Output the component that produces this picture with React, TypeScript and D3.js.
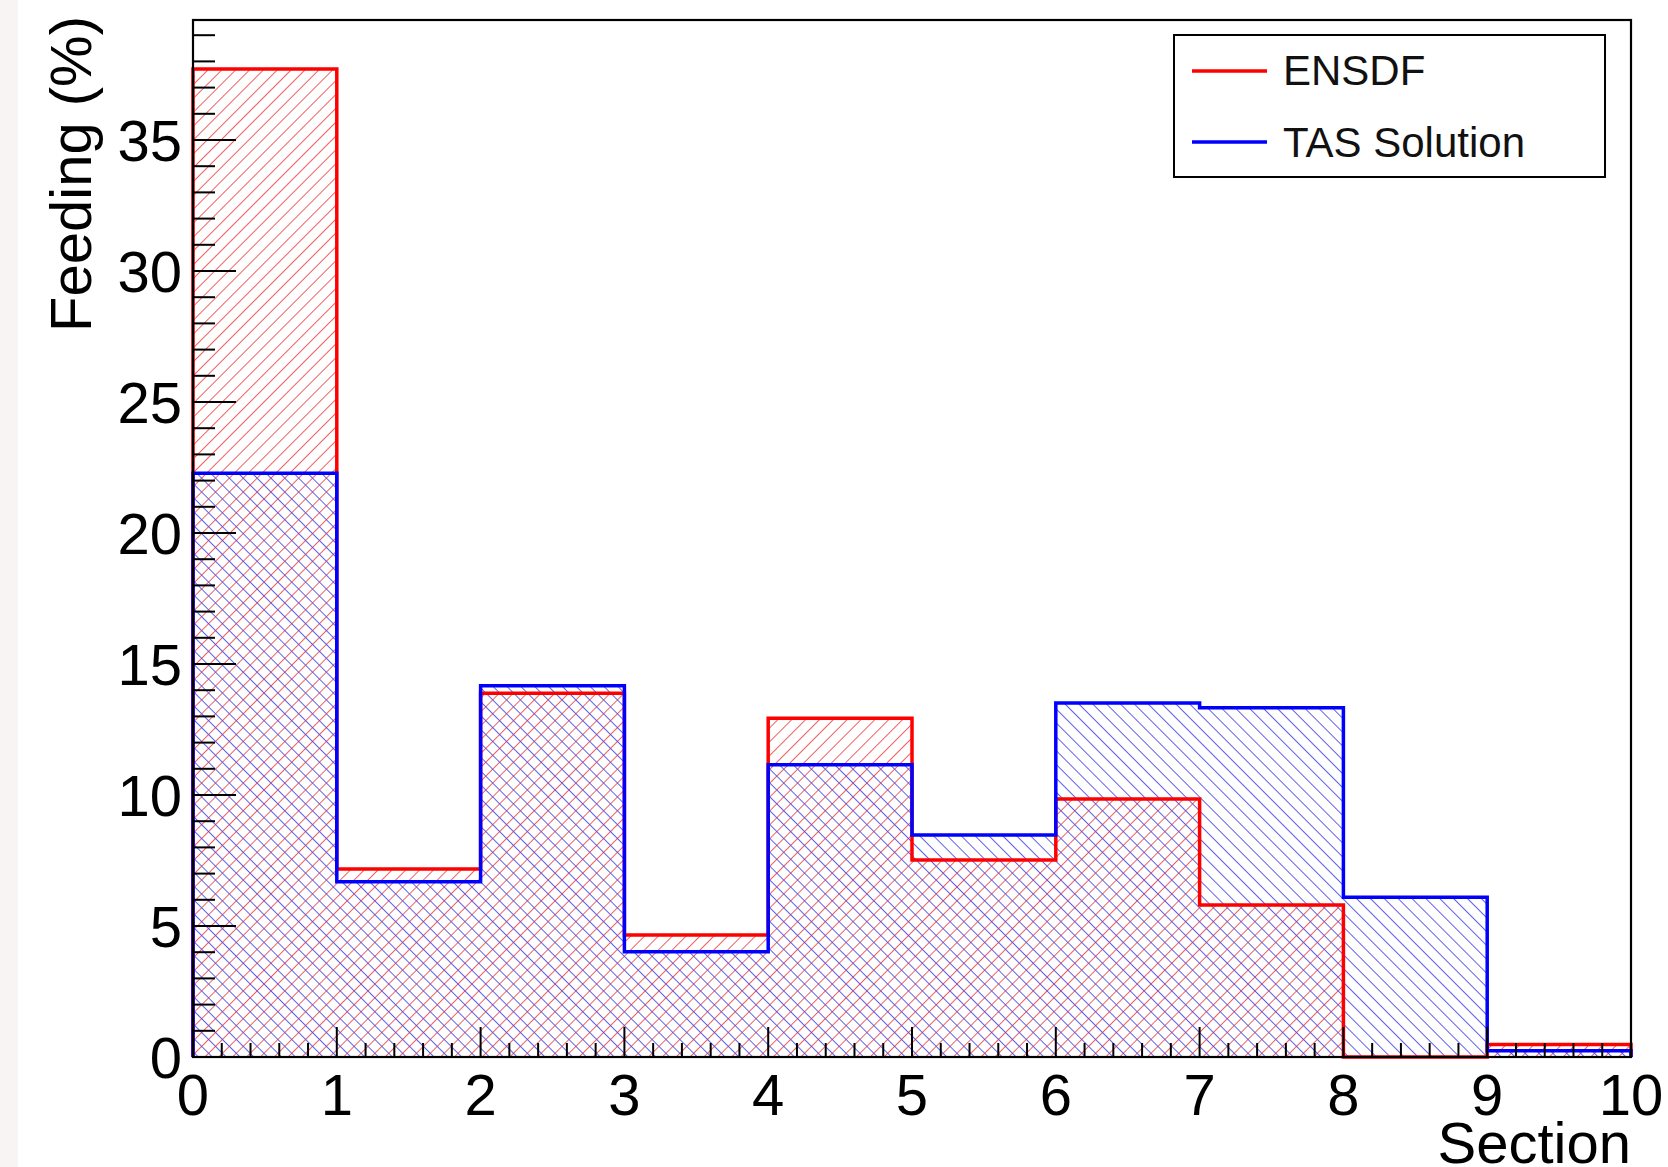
import React from "react";
import * as d3 from "d3";

const binEdges = [0, 1, 2, 3, 4, 5, 6, 7, 8, 9, 10];
const ensdf = [37.71, 7.18, 13.88, 4.66, 12.93, 7.52, 9.85, 5.8, 0, 0.48];
const tas = [22.28, 6.69, 14.17, 4.02, 11.15, 8.47, 13.51, 13.33, 6.1, 0.24];
const xTickLabels = ["0", "1", "2", "3", "4", "5", "6", "7", "8", "9", "10"];
const yTickValues = [0, 5, 10, 15, 20, 25, 30, 35];
const legendLabels = ["ENSDF", "TAS Solution"];

const W = 1668;
const H = 1167;
const L = 193, R = 1631, T = 20, B = 1057;
const FONT = "'Liberation Sans', Arial, Helvetica, sans-serif";

const x = d3.scaleLinear().domain([0, 10]).range([L, R]);
const y = d3.scaleLinear().domain([0, 39.58]).range([B, T]);

function stepPoints(vals: number[]): [number, number][] {
  const pts: [number, number][] = [[binEdges[0], 0]];
  vals.forEach((v, i) => {
    pts.push([binEdges[i], v]);
    pts.push([binEdges[i + 1], v]);
  });
  pts.push([binEdges[binEdges.length - 1], 0]);
  return pts;
}

const lineGen = d3
  .line<[number, number]>()
  .x((d) => x(d[0]))
  .y((d) => y(d[1]));

export default function App() {
  const redPath = lineGen(stepPoints(ensdf)) || "";
  const bluePath = lineGen(stepPoints(tas)) || "";
  const xMajor = d3.range(0, 11, 1);
  const xMinor = d3.range(0, 10.001, 0.2).filter((v) => Math.abs(v - Math.round(v)) > 1e-6);
  const yMinor = d3.range(0, 39.5, 1).filter((v) => v % 5 !== 0);
  const sp = 9.8;

  return (
    <svg
      width={W}
      height={H}
      style={{ position: "absolute", left: 0, top: 0, background: "#fff" }}
      xmlns="http://www.w3.org/2000/svg"
    >
      <defs>
        <pattern id="hatchRed" patternUnits="userSpaceOnUse" width={sp} height={sp} patternTransform="rotate(45)">
          <line x1={0} y1={-2} x2={0} y2={sp + 2} stroke="#ee5050" strokeWidth={1.8} />
        </pattern>
        <pattern id="hatchBlue" patternUnits="userSpaceOnUse" width={sp} height={sp} patternTransform="rotate(-45)">
          <line x1={0} y1={-2} x2={0} y2={sp + 2} stroke="#5050e6" strokeWidth={1.8} />
        </pattern>
      </defs>
      <rect x={0} y={0} width={W} height={H} fill="#ffffff" />
      <rect x={0} y={0} width={18} height={H} fill="#f8f4f4" />

      {/* fills */}
      <path d={redPath + "Z"} fill="url(#hatchRed)" stroke="none" />
      <path d={bluePath + "Z"} fill="url(#hatchBlue)" stroke="none" />
      {/* outlines */}
      <path d={redPath} fill="none" stroke="#ff0000" strokeWidth={3.5} strokeLinejoin="miter" />
      <path d={bluePath} fill="none" stroke="#0000ff" strokeWidth={3.5} strokeLinejoin="miter" />

      {/* frame */}
      <rect x={L} y={T} width={R - L} height={B - T} fill="none" stroke="#000" strokeWidth={2.2} />

      {/* x ticks */}
      {xMajor.map((v) => (
        <line key={"xM" + v} x1={x(v)} x2={x(v)} y1={B} y2={B - 30} stroke="#000" strokeWidth={2} />
      ))}
      {xMinor.map((v, i) => (
        <line key={"xm" + i} x1={x(v)} x2={x(v)} y1={B} y2={B - 14} stroke="#000" strokeWidth={2} />
      ))}
      {/* y ticks */}
      {yTickValues.map((v) => (
        <line key={"yM" + v} x1={L} x2={L + 43} y1={y(v)} y2={y(v)} stroke="#000" strokeWidth={2} />
      ))}
      {yMinor.map((v) => (
        <line key={"ym" + v} x1={L} x2={L + 22} y1={y(v)} y2={y(v)} stroke="#000" strokeWidth={2} />
      ))}

      {/* tick labels */}
      {xMajor.map((v, i) => (
        <text key={"xl" + v} x={x(v)} y={1115} fontFamily={FONT} fontSize={58} textAnchor="middle" fill="#000">
          {xTickLabels[i]}
        </text>
      ))}
      {yTickValues.map((v) => (
        <text key={"yl" + v} x={182} y={y(v) + 21} fontFamily={FONT} fontSize={58} textAnchor="end" fill="#000">
          {String(v)}
        </text>
      ))}

      {/* axis titles */}
      <text x={R} y={1163} fontFamily={FONT} fontSize={58} textAnchor="end" fill="#000">
        Section
      </text>
      <text
        transform={`translate(91, ${T - 4}) rotate(-90)`}
        fontFamily={FONT}
        fontSize={58}
        textAnchor="end"
        fill="#000"
      >
        Feeding (%)
      </text>

      {/* legend */}
      <rect x={1174} y={35} width={431} height={142} fill="#fff" stroke="#000" strokeWidth={2} />
      <line x1={1192} x2={1267} y1={71} y2={71} stroke="#ff0000" strokeWidth={3.5} />
      <line x1={1192} x2={1267} y1={142} y2={142} stroke="#0000ff" strokeWidth={3.5} />
      <text x={1283} y={85} fontFamily={FONT} fontSize={42} fill="#111">
        {legendLabels[0]}
      </text>
      <text x={1283} y={157} fontFamily={FONT} fontSize={42} fill="#111">
        {legendLabels[1]}
      </text>
    </svg>
  );
}
